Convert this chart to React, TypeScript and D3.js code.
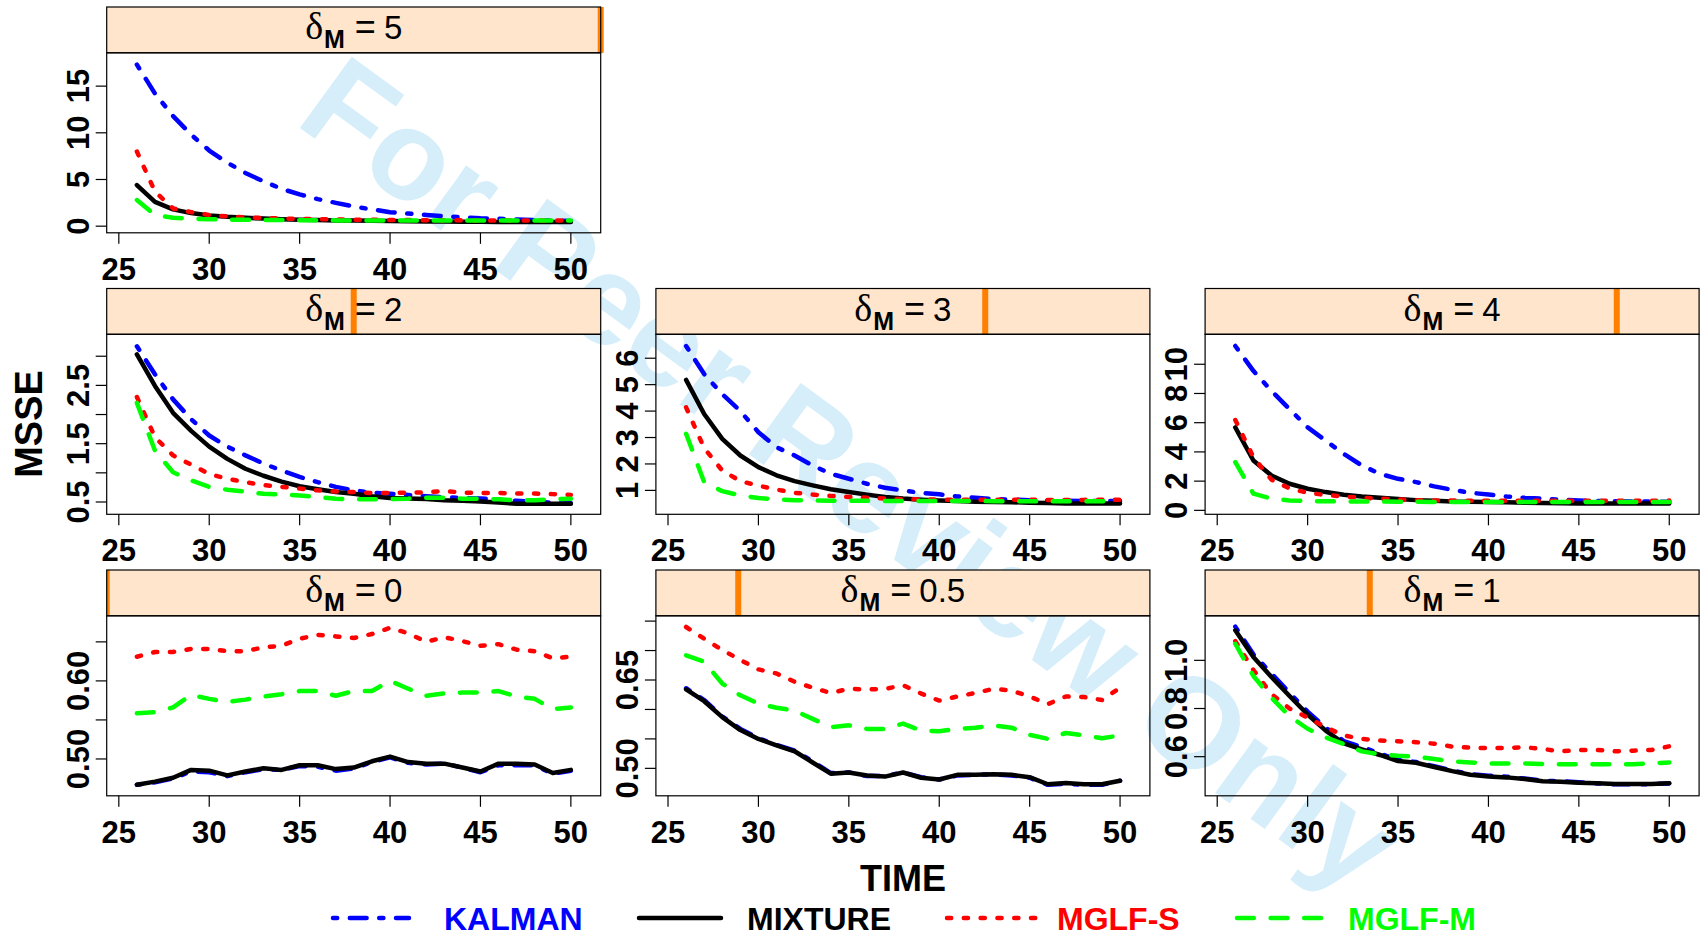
import React from "react";
import * as d3 from "d3";

const TIME = [26, 27, 28, 29, 30, 31, 32, 33, 34, 35, 36, 37, 38, 39, 40, 41, 42, 43, 44, 45, 46, 47, 48, 49, 50];
const X_TICKS = [25, 30, 35, 40, 45, 50];
const DELTA_LEVELS = ["0", "0.5", "1", "2", "3", "4", "5"];
const SERIES = ["KALMAN", "MIXTURE", "MGLF-S", "MGLF-M"];
const COLORS = ["#0000ff", "#000000", "#ff0000", "#00ff00"];
const DASHES = ["4.2 12.6 16.8 12.6", "none", "4.2 12.6", "16.8 16.8"];

// delta_M = 0
const KALMAN_0 = [0.467, 0.470, 0.475, 0.484, 0.483, 0.478, 0.483, 0.487, 0.486, 0.491, 0.490, 0.485, 0.488, 0.496, 0.502, 0.495, 0.493, 0.494, 0.489, 0.483, 0.492, 0.492, 0.492, 0.481, 0.485];
const MIXTURE_0 = [0.467, 0.471, 0.476, 0.486, 0.485, 0.479, 0.484, 0.488, 0.486, 0.492, 0.492, 0.487, 0.489, 0.497, 0.503, 0.496, 0.494, 0.494, 0.489, 0.484, 0.494, 0.494, 0.493, 0.482, 0.486];
const MGLFS_0 = [0.631, 0.637, 0.637, 0.641, 0.641, 0.638, 0.638, 0.643, 0.645, 0.654, 0.659, 0.657, 0.655, 0.660, 0.668, 0.661, 0.650, 0.656, 0.651, 0.645, 0.647, 0.640, 0.638, 0.629, 0.631];
const MGLFM_0 = [0.5585, 0.560, 0.566, 0.582, 0.577, 0.573, 0.576, 0.580, 0.583, 0.587, 0.587, 0.581, 0.587, 0.587, 0.600, 0.590, 0.581, 0.584, 0.585, 0.585, 0.587, 0.580, 0.577, 0.564, 0.566];

// delta_M = 0.5
const KALMAN_05 = [0.636, 0.616, 0.588, 0.567, 0.551, 0.540, 0.530, 0.512, 0.492, 0.493, 0.487, 0.487, 0.493, 0.485, 0.481, 0.488, 0.489, 0.490, 0.488, 0.484, 0.472, 0.474, 0.472, 0.472, 0.479];
const MIXTURE_05 = [0.634, 0.614, 0.587, 0.565, 0.550, 0.539, 0.529, 0.510, 0.491, 0.493, 0.488, 0.486, 0.493, 0.484, 0.481, 0.489, 0.489, 0.490, 0.489, 0.485, 0.473, 0.475, 0.473, 0.473, 0.479];
const MGLFS_05 = [0.740, 0.720, 0.701, 0.684, 0.668, 0.661, 0.647, 0.637, 0.628, 0.635, 0.634, 0.635, 0.641, 0.627, 0.615, 0.622, 0.628, 0.635, 0.632, 0.622, 0.609, 0.622, 0.621, 0.616, 0.637];
const MGLFM_05 = [0.692, 0.681, 0.644, 0.624, 0.610, 0.603, 0.598, 0.584, 0.570, 0.573, 0.567, 0.567, 0.576, 0.564, 0.563, 0.567, 0.569, 0.573, 0.569, 0.557, 0.550, 0.560, 0.556, 0.551, 0.556];

// delta_M = 1
const KALMAN_1 = [1.140, 1.025, 0.945, 0.865, 0.787, 0.720, 0.665, 0.640, 0.613, 0.586, 0.578, 0.560, 0.543, 0.527, 0.521, 0.517, 0.509, 0.500, 0.498, 0.494, 0.489, 0.485, 0.485, 0.486, 0.489];
const MIXTURE_1 = [1.125, 1.014, 0.931, 0.852, 0.775, 0.708, 0.655, 0.630, 0.607, 0.582, 0.575, 0.557, 0.540, 0.525, 0.518, 0.514, 0.507, 0.498, 0.496, 0.492, 0.490, 0.486, 0.486, 0.486, 0.490];
const MGLFS_1 = [1.080, 0.960, 0.860, 0.800, 0.762, 0.722, 0.688, 0.674, 0.667, 0.664, 0.660, 0.654, 0.642, 0.637, 0.636, 0.636, 0.639, 0.632, 0.622, 0.628, 0.628, 0.622, 0.625, 0.628, 0.643];
const MGLFM_1 = [1.069, 0.935, 0.845, 0.768, 0.716, 0.680, 0.652, 0.622, 0.610, 0.604, 0.600, 0.590, 0.581, 0.576, 0.572, 0.572, 0.572, 0.569, 0.569, 0.569, 0.569, 0.569, 0.569, 0.572, 0.576];

// delta_M = 2
const KALMAN_2 = [3.17, 2.69, 2.26, 1.92, 1.64, 1.45, 1.30, 1.16, 1.04, 0.93, 0.84, 0.76, 0.70, 0.66, 0.64, 0.62, 0.60, 0.58, 0.57, 0.56, 0.54, 0.52, 0.50, 0.49, 0.48];
const MIXTURE_2 = [3.03, 2.49, 2.03, 1.72, 1.45, 1.24, 1.07, 0.95, 0.85, 0.77, 0.72, 0.67, 0.64, 0.60, 0.57, 0.56, 0.55, 0.53, 0.52, 0.51, 0.49, 0.47, 0.47, 0.47, 0.47];
const MGLFS_2 = [2.30, 1.61, 1.30, 1.14, 0.98, 0.90, 0.84, 0.79, 0.76, 0.73, 0.70, 0.68, 0.67, 0.655, 0.655, 0.66, 0.665, 0.69, 0.66, 0.655, 0.655, 0.645, 0.645, 0.635, 0.62];
const MGLFM_2 = [2.20, 1.38, 1.01, 0.87, 0.76, 0.71, 0.68, 0.64, 0.63, 0.61, 0.585, 0.557, 0.545, 0.545, 0.55, 0.557, 0.574, 0.574, 0.557, 0.557, 0.545, 0.53, 0.53, 0.55, 0.557];

// delta_M = 3
const KALMAN_3 = [6.46, 5.40, 4.64, 4.00, 3.20, 2.63, 2.32, 1.94, 1.63, 1.44, 1.25, 1.10, 1.00, 0.90, 0.85, 0.77, 0.72, 0.67, 0.65, 0.63, 0.62, 0.61, 0.60, 0.60, 0.60];
const MIXTURE_3 = [5.18, 3.89, 2.95, 2.32, 1.88, 1.57, 1.35, 1.19, 1.04, 0.94, 0.84, 0.75, 0.69, 0.65, 0.62, 0.60, 0.57, 0.56, 0.55, 0.535, 0.52, 0.50, 0.50, 0.50, 0.50];
const MGLFS_3 = [4.14, 2.60, 1.75, 1.35, 1.18, 1.03, 0.91, 0.84, 0.79, 0.75, 0.72, 0.69, 0.67, 0.66, 0.65, 0.65, 0.65, 0.65, 0.65, 0.65, 0.64, 0.64, 0.64, 0.65, 0.65];
const MGLFM_3 = [3.14, 1.31, 0.97, 0.81, 0.71, 0.66, 0.63, 0.62, 0.61, 0.61, 0.61, 0.60, 0.60, 0.60, 0.60, 0.60, 0.60, 0.59, 0.59, 0.59, 0.59, 0.59, 0.59, 0.59, 0.59];

// delta_M = 4
const KALMAN_4 = [11.25, 9.55, 8.18, 6.93, 5.68, 4.77, 3.86, 3.07, 2.50, 2.16, 1.93, 1.64, 1.41, 1.20, 1.09, 0.95, 0.86, 0.80, 0.73, 0.68, 0.64, 0.63, 0.61, 0.60, 0.59];
const MIXTURE_4 = [5.68, 3.41, 2.39, 1.82, 1.48, 1.25, 1.07, 0.95, 0.86, 0.77, 0.70, 0.66, 0.61, 0.59, 0.57, 0.55, 0.52, 0.50, 0.48, 0.47, 0.47, 0.47, 0.47, 0.47, 0.47];
const MGLFS_4 = [6.18, 3.64, 2.10, 1.50, 1.20, 1.05, 0.95, 0.86, 0.80, 0.75, 0.70, 0.68, 0.67, 0.66, 0.66, 0.66, 0.66, 0.66, 0.66, 0.66, 0.66, 0.66, 0.66, 0.66, 0.68];
const MGLFM_4 = [3.30, 1.14, 0.80, 0.68, 0.64, 0.62, 0.61, 0.60, 0.60, 0.59, 0.59, 0.58, 0.58, 0.58, 0.57, 0.57, 0.57, 0.57, 0.57, 0.57, 0.57, 0.57, 0.57, 0.57, 0.57];

// delta_M = 5
const KALMAN_5 = [17.3, 14.2, 11.8, 9.8, 8.1, 6.8, 5.7, 4.8, 4.0, 3.4, 2.9, 2.5, 2.1, 1.8, 1.5, 1.35, 1.2, 1.05, 0.95, 0.85, 0.8, 0.72, 0.66, 0.6, 0.55];
const MIXTURE_5 = [4.4, 2.6, 1.8, 1.4, 1.15, 1.0, 0.9, 0.82, 0.75, 0.7, 0.66, 0.62, 0.6, 0.57, 0.55, 0.52, 0.5, 0.49, 0.48, 0.47, 0.46, 0.45, 0.45, 0.45, 0.45];
const MGLFS_5 = [8.0, 3.7, 1.9, 1.5, 1.2, 1.05, 0.95, 0.88, 0.82, 0.78, 0.74, 0.72, 0.7, 0.68, 0.66, 0.65, 0.64, 0.63, 0.62, 0.62, 0.61, 0.61, 0.6, 0.6, 0.6];
const MGLFM_5 = [2.8, 1.2, 0.9, 0.8, 0.75, 0.7, 0.68, 0.66, 0.65, 0.64, 0.63, 0.62, 0.62, 0.61, 0.6, 0.6, 0.6, 0.6, 0.6, 0.6, 0.6, 0.6, 0.6, 0.6, 0.6];

// y axes per panel
const Y_DOMAIN_0 = [0.4528, 0.6834];
const Y_TICKS_0 = [0.5, 0.55, 0.6, 0.65];
const Y_LABELS_0 = ["0.50", "", "0.60", ""];
const Y_DOMAIN_05 = [0.4534, 0.759];
const Y_TICKS_05 = [0.5, 0.55, 0.6, 0.65, 0.7, 0.75];
const Y_LABELS_05 = ["0.50", "", "", "0.65", "", ""];
const Y_DOMAIN_1 = [0.4375, 1.185];
const Y_TICKS_1 = [0.6, 0.8, 1.0];
const Y_LABELS_1 = ["0.6", "0.8", "1.0"];
const Y_DOMAIN_2 = [0.289, 3.376];
const Y_TICKS_2 = [0.5, 1.0, 1.5, 2.0, 2.5, 3.0];
const Y_LABELS_2 = ["0.5", "", "1.5", "", "2.5", ""];
const Y_DOMAIN_3 = [0.095, 6.905];
const Y_TICKS_3 = [1, 2, 3, 4, 5, 6];
const Y_LABELS_3 = ["1", "2", "3", "4", "5", "6"];
const Y_DOMAIN_4 = [-0.27, 12.05];
const Y_TICKS_4 = [0, 2, 4, 6, 8, 10];
const Y_LABELS_4 = ["0", "2", "4", "6", "8", "10"];
const Y_DOMAIN_5 = [-0.71, 18.57];
const Y_TICKS_5 = [0, 5, 10, 15];
const Y_LABELS_5 = ["0", "5", "10", "15"];

const X_DOMAIN = [24.33, 51.65];

const PANELS = [
  { level: 0, row: 2, col: 0, series: [KALMAN_0, MIXTURE_0, MGLFS_0, MGLFM_0], yDomain: Y_DOMAIN_0, yTicks: Y_TICKS_0, yLabels: Y_LABELS_0 },
  { level: 1, row: 2, col: 1, series: [KALMAN_05, MIXTURE_05, MGLFS_05, MGLFM_05], yDomain: Y_DOMAIN_05, yTicks: Y_TICKS_05, yLabels: Y_LABELS_05 },
  { level: 2, row: 2, col: 2, series: [KALMAN_1, MIXTURE_1, MGLFS_1, MGLFM_1], yDomain: Y_DOMAIN_1, yTicks: Y_TICKS_1, yLabels: Y_LABELS_1 },
  { level: 3, row: 1, col: 0, series: [KALMAN_2, MIXTURE_2, MGLFS_2, MGLFM_2], yDomain: Y_DOMAIN_2, yTicks: Y_TICKS_2, yLabels: Y_LABELS_2 },
  { level: 4, row: 1, col: 1, series: [KALMAN_3, MIXTURE_3, MGLFS_3, MGLFM_3], yDomain: Y_DOMAIN_3, yTicks: Y_TICKS_3, yLabels: Y_LABELS_3 },
  { level: 5, row: 1, col: 2, series: [KALMAN_4, MIXTURE_4, MGLFS_4, MGLFM_4], yDomain: Y_DOMAIN_4, yTicks: Y_TICKS_4, yLabels: Y_LABELS_4 },
  { level: 6, row: 0, col: 0, series: [KALMAN_5, MIXTURE_5, MGLFS_5, MGLFM_5], yDomain: Y_DOMAIN_5, yTicks: Y_TICKS_5, yLabels: Y_LABELS_5 },
];

// layout
const W = 1701;
const H = 936;
const COL_LEFT0 = 106.7;
const COL_PITCH = 549.2;
const PANEL_W = 494;
const ROW_TOP = [7, 288.5, 570];
const STRIP_H = 45.8;
const PLOT_H = 180;
const TICK = 11;
const SANS = "'Liberation Sans', Arial, Helvetica, sans-serif";
const SERIF = "'Liberation Serif', 'Times New Roman', serif";
const LEGEND_ITEMS_X = [
  { line: 333, text: 444 },
  { line: 639, text: 747 },
  { line: 947, text: 1057 },
  { line: 1237, text: 1348 },
];
const LEGEND_LINE_LEN = [76, 82, 90, 84];

function Panel({ p }: { p: (typeof PANELS)[number] }) {
  const left = COL_LEFT0 + p.col * COL_PITCH;
  const right = left + PANEL_W;
  const stripTop = ROW_TOP[p.row];
  const top = stripTop + STRIP_H;
  const bottom = top + PLOT_H;
  const x = d3.scaleLinear().domain(X_DOMAIN).range([left, right]);
  const y = d3.scaleLinear().domain(p.yDomain).range([bottom, top]);
  const line = d3
    .line<number>()
    .x((_, i) => x(TIME[i]))
    .y((d) => y(d));
  const clipId = `clip-${p.level}`;
  const frac = p.level / (DELTA_LEVELS.length - 1);
  const barC = left + frac * PANEL_W;
  const barL = Math.max(left, barC - 3);
  const barR = barC + 3;
  const cx = (left + right) / 2;
  return (
    <g>
      <clipPath id={clipId}>
        <rect x={left} y={top} width={PANEL_W} height={PLOT_H} />
      </clipPath>
      {/* strip */}
      <rect x={left} y={stripTop} width={PANEL_W} height={STRIP_H} fill="#ffe5cc" />
      <rect x={barL} y={stripTop} width={barR - barL} height={STRIP_H} fill="#ff7f00" />
      <rect x={left} y={stripTop} width={PANEL_W} height={STRIP_H} fill="none" stroke="#000" strokeWidth={1.2} />
      <text x={cx} y={stripTop + 32} textAnchor="middle" fill="#000">
        <tspan fontFamily={SERIF} fontSize={38}>δ</tspan>
        <tspan fontFamily={SANS} fontWeight="bold" fontSize={25} dy={9} dx={1}>M</tspan>
        <tspan fontFamily={SANS} fontSize={36} dy={-9} dx={10}>=</tspan>
        <tspan fontFamily={SANS} fontSize={33} dx={8}>{DELTA_LEVELS[p.level]}</tspan>
      </text>
      {/* lines */}
      <g clipPath={`url(#${clipId})`}>
        {p.series.map((vals, si) => (
          <path
            key={si}
            d={line(vals) || ""}
            fill="none"
            stroke={COLORS[si]}
            strokeWidth={4.5}
            strokeDasharray={DASHES[si]}
            strokeLinecap="round"
            strokeLinejoin="round"
          />
        ))}
      </g>
      {/* box */}
      <rect x={left} y={top} width={PANEL_W} height={PLOT_H} fill="none" stroke="#000" strokeWidth={1.2} />
      {/* x axis */}
      {X_TICKS.map((t) => (
        <g key={`x${t}`}>
          <line x1={x(t)} x2={x(t)} y1={bottom} y2={bottom + TICK} stroke="#000" strokeWidth={1.2} />
          <text x={x(t)} y={bottom + 47} textAnchor="middle" fontFamily={SANS} fontWeight="bold" fontSize={31} fill="#000">
            {t}
          </text>
        </g>
      ))}
      {/* y axis */}
      {p.yTicks.map((t, i) => (
        <g key={`y${i}`}>
          <line x1={left - TICK} x2={left} y1={y(t)} y2={y(t)} stroke="#000" strokeWidth={1.2} />
          {p.yLabels[i] !== "" && (
            <text
              transform={`translate(${left - 18},${y(t)}) rotate(-90)`}
              textAnchor="middle"
              fontFamily={SANS}
              fontWeight="bold"
              fontSize={31}
              fill="#000"
            >
              {p.yLabels[i]}
            </text>
          )}
        </g>
      ))}
    </g>
  );
}

export default function App() {
  return (
    <div style={{ position: "absolute", left: 0, top: 0, width: W, height: H, background: "#fff" }}>
      <svg width={W} height={H} viewBox={`0 0 ${W} ${H}`} style={{ display: "block" }}>
        <rect x={0} y={0} width={W} height={H} fill="#fff" />
        {/* watermark */}
        <text
          transform="translate(293,123) rotate(36)"
          fontFamily={SANS}
          fontWeight="bold"
          fontSize={128}
          fill="#d5eefa"
        >
          For Peer Review Only
        </text>
        {PANELS.map((p) => (
          <Panel key={p.level} p={p} />
        ))}
        {/* axis titles */}
        <text x={903} y={891} textAnchor="middle" fontFamily={SANS} fontWeight="bold" fontSize={36} fill="#000">
          TIME
        </text>
        <text transform="translate(42,424) rotate(-90)" textAnchor="middle" fontFamily={SANS} fontWeight="bold" fontSize={38} fill="#000">
          MSSE
        </text>
        {/* legend */}
        {SERIES.map((name, i) => (
          <g key={name}>
            <line
              x1={LEGEND_ITEMS_X[i].line}
              x2={LEGEND_ITEMS_X[i].line + LEGEND_LINE_LEN[i]}
              y1={918}
              y2={918}
              stroke={COLORS[i]}
              strokeWidth={4.5}
              strokeDasharray={DASHES[i]}
              strokeLinecap="round"
            />
            <text x={LEGEND_ITEMS_X[i].text} y={930} fontFamily={SANS} fontWeight="bold" fontSize={32} fill={COLORS[i]}>
              {name}
            </text>
          </g>
        ))}
      </svg>
    </div>
  );
}
